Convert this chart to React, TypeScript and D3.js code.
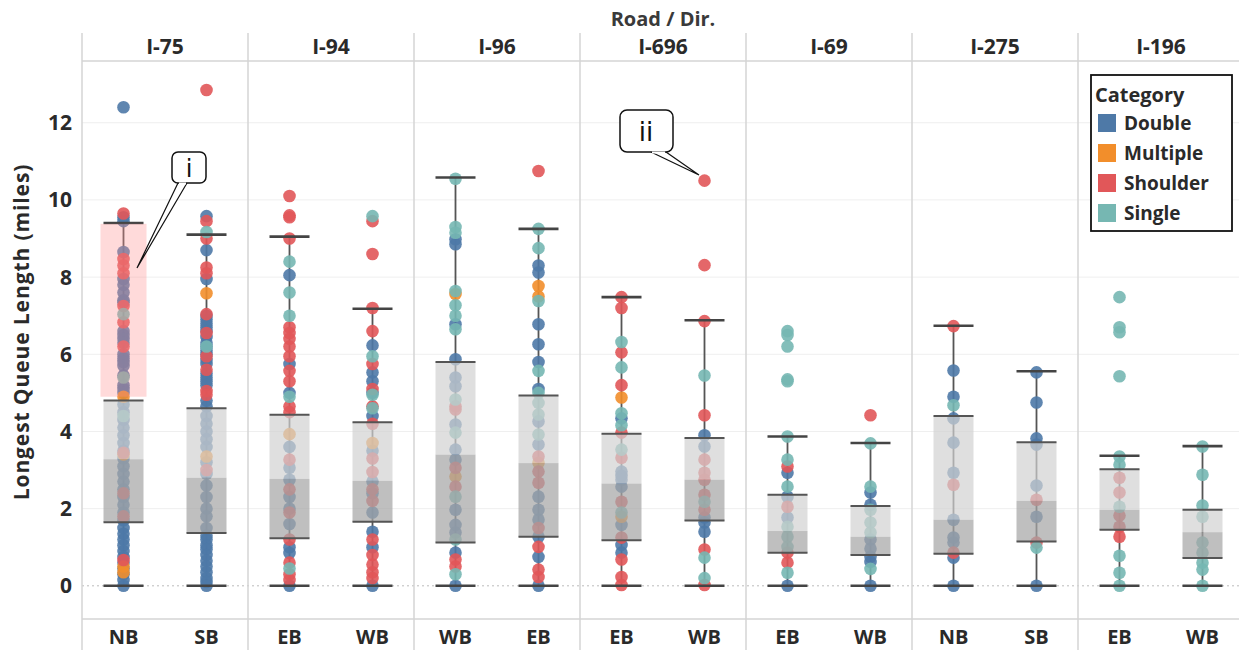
import React from "react";
import * as d3 from "d3";

const W = 1239;
const H = 650;

const roads = ["I-75", "I-94", "I-96", "I-696", "I-69", "I-275", "I-196"];
const dirs = [["NB", "SB"], ["EB", "WB"], ["WB", "EB"], ["EB", "WB"], ["EB", "WB"], ["NB", "SB"], ["EB", "WB"]];
const categories = ["Double", "Multiple", "Shoulder", "Single"];
const catColors = ["#4e79a7", "#f28e2b", "#e15759", "#76b7b2"];
const yTicks = [0, 2, 4, 6, 8, 10, 12];

// box stats per road, per direction: [lowerWhisker, q1, median, q3, upperWhisker]
const boxI75 = [[0, 1.65, 3.28, 4.8, 9.4], [0, 1.37, 2.8, 4.6, 9.1]];
const boxI94 = [[0, 1.23, 2.77, 4.43, 9.05], [0, 1.66, 2.72, 4.24, 7.18]];
const boxI96 = [[0, 1.12, 3.4, 5.8, 10.58], [0, 1.27, 3.18, 4.93, 9.25]];
const boxI696 = [[0, 1.18, 2.65, 3.94, 7.48], [0, 1.69, 2.75, 3.83, 6.88]];
const boxI69 = [[0, 0.86, 1.42, 2.36, 3.87], [0, 0.8, 1.27, 2.07, 3.7]];
const boxI275 = [[0, 0.83, 1.71, 4.4, 6.74], [0, 1.15, 2.2, 3.72, 5.56]];
const boxI196 = [[0, 1.45, 1.97, 3.02, 3.37], [0, 0.72, 1.39, 1.97, 3.62]];

// points: [Double, Multiple, Shoulder, Single]
const ptsI75NB = [
  [12.4, 9.55, 9.45, 8.65, 7.95, 7.8, 7.6, 7.4, 7.35, 6.6, 6.5, 6.4, 6.3, 6.0, 5.9, 5.8, 5.7, 5.45, 5.2, 5.1, 5.0, 4.7, 4.5, 4.3, 4.1, 3.9, 3.7, 3.5, 3.3, 3.1, 2.9, 2.7, 2.5, 2.3, 2.1, 1.9, 1.7, 1.5, 1.35, 1.2, 1.05, 0.9, 0.75, 0.6, 0.45, 0.3, 0.15, 0.0],
  [4.9, 3.4, 0.5, 0.35],
  [9.65, 8.47, 8.3, 8.1, 7.25, 6.83, 6.2, 3.45, 2.4, 1.8, 0.67],
  [7.04, 5.4, 4.4],
];
const ptsI75SB = [
  [9.58, 8.7, 7.95, 7.0, 6.9, 6.8, 6.7, 6.6, 6.45, 6.3, 6.2, 6.1, 6.0, 5.85, 5.75, 5.5, 5.4, 5.3, 5.2, 4.8, 4.65, 4.4, 4.2, 4.0, 3.8, 3.6, 3.2, 2.9, 2.6, 2.3, 2.0, 1.8, 1.5, 1.3, 1.2, 1.05, 0.95, 0.8, 0.65, 0.5, 0.35, 0.2, 0.1, 0.0],
  [7.58, 3.35],
  [12.85, 9.45, 9.0, 8.25, 8.1, 7.04, 6.55, 5.95, 5.6, 5.05, 4.95, 3.0],
  [9.17, 6.2],
];
const ptsI94EB = [
  [8.05, 5.75, 5.0, 3.6, 3.06, 2.75, 2.3, 2.0, 1.6, 1.0, 0.85, 0.0],
  [3.93],
  [10.1, 9.6, 9.55, 9.0, 6.7, 6.55, 6.4, 6.2, 5.95, 5.57, 5.3, 4.65, 4.5, 3.27, 2.5, 1.9, 1.2, 0.6, 0.3, 0.15],
  [8.4, 7.6, 7.0, 4.9, 0.45],
];
const ptsI94WB = [
  [6.23, 5.53, 5.3, 5.0, 4.4, 3.5, 2.7, 2.4, 1.9, 1.4, 1.0, 0.0],
  [3.7],
  [9.45, 8.6, 7.2, 6.6, 5.75, 5.1, 4.65, 4.2, 3.3, 2.95, 2.5, 2.2, 1.2, 0.8, 0.55, 0.35, 0.2],
  [9.58, 5.95, 4.95, 4.6],
];
const ptsI96WB = [
  [8.98, 8.85, 6.78, 5.87, 5.4, 5.17, 4.18, 3.53, 3.27, 1.97, 1.58, 1.38, 0.86, 0.0],
  [7.56, 2.83],
  [4.65, 4.57, 3.06, 2.57, 0.68, 0.5],
  [10.55, 9.3, 9.15, 7.64, 7.27, 7.0, 6.65, 4.83, 3.97, 2.31, 1.2, 0.3],
];
const ptsI96EB = [
  [8.3, 8.12, 6.78, 6.26, 5.8, 5.1, 4.26, 3.66, 2.31, 1.97, 1.71, 1.27, 0.75, 0.0],
  [7.77, 7.5, 3.19],
  [10.75, 3.35, 2.96, 2.67, 1.5, 1.01, 0.42, 0.23],
  [9.25, 8.75, 7.38, 5.57, 5.0, 4.74, 4.44, 3.92],
];
const ptsI696EB = [
  [4.34, 2.96, 2.85, 2.75, 2.57, 1.58, 1.06, 0.86],
  [4.88, 1.79],
  [7.48, 7.2, 6.05, 5.2, 3.97, 3.32, 2.18, 1.25, 0.68, 0.23, 0.02],
  [6.32, 5.66, 4.47, 4.16, 3.53, 1.9],
];
const ptsI696WB = [
  [3.9, 3.61, 1.77, 1.64, 1.4],
  [],
  [10.5, 8.31, 6.86, 4.42, 3.27, 2.93, 2.75, 2.36, 1.97, 0.94, 0.02],
  [5.45, 2.18, 0.73, 0.2],
];
const ptsI69EB = [
  [2.93, 2.31, 1.77, 0.0],
  [],
  [3.09, 2.05, 0.86, 0.6],
  [6.6, 6.5, 6.2, 5.35, 5.3, 3.87, 3.27, 2.57, 1.53, 1.27, 1.01, 0.34],
];
const ptsI69WB = [
  [2.42, 2.1, 1.2, 0.96, 0.75, 0.62, 0.0],
  [],
  [4.42],
  [3.69, 2.57, 1.97, 1.64, 1.38, 0.44],
];
const ptsI275NB = [
  [5.58, 4.9, 4.34, 3.71, 2.93, 1.71, 1.25, 1.12, 0.73, 0.0],
  [],
  [6.73, 2.62, 0.86],
  [4.68],
];
const ptsI275SB = [
  [5.53, 4.75, 3.82, 3.66, 2.6, 1.79, 0.0],
  [],
  [2.23, 1.12],
  [0.99],
];
const ptsI196EB = [
  [],
  [],
  [2.8, 2.42, 1.82, 1.53, 1.27],
  [7.48, 6.7, 6.57, 5.43, 3.35, 3.14, 2.05, 0.78, 0.34, 0.0],
];
const ptsI196WB = [
  [],
  [],
  [],
  [3.61, 2.88, 2.08, 1.79, 1.12, 0.86, 0.6, 0.42, 0.0],
];

const boxes = [boxI75, boxI94, boxI96, boxI696, boxI69, boxI275, boxI196];
const points = [
  [ptsI75NB, ptsI75SB],
  [ptsI94EB, ptsI94WB],
  [ptsI96WB, ptsI96EB],
  [ptsI696EB, ptsI696WB],
  [ptsI69EB, ptsI69WB],
  [ptsI275NB, ptsI275SB],
  [ptsI196EB, ptsI196WB],
];

const FONT = "'Open Sans', 'Noto Sans', sans-serif";
const TXT = "#2a2a2a";

export default function App() {
  const plotLeft = 82;
  const plotRight = 1244;
  const headerTop = 33;
  const headerBottom = 61;
  const plotBottom = 619;

  const xPanel = d3.scaleBand<string>().domain(roads).range([plotLeft, plotRight]).padding(0);
  const xDir = d3.scaleBand<number>().domain([0, 1]).range([0, xPanel.bandwidth()]).padding(0);
  const y = d3.scaleLinear().domain([-0.86, 13.6]).range([plotBottom, headerBottom]);

  const boxW = 40;
  const capW = 40;
  const grey = "#555";

  const gridLines = yTicks.filter((t) => t !== 0);

  const cx = (ri: number, di: number) => (xPanel(roads[ri]) as number) + (xDir(di) as number) + xDir.bandwidth() / 2;

  return (
    <div style={{ position: "absolute", left: 0, top: 0 }}>
      <svg width={W} height={H} style={{ display: "block", background: "#fff", fontFamily: FONT }}>
        {/* gridlines */}
        {gridLines.map((t) => (
          <line key={"g" + t} x1={plotLeft} x2={plotRight} y1={y(t)} y2={y(t)} stroke="#efefef" strokeWidth={1} />
        ))}
        <line x1={plotLeft} x2={plotRight} y1={y(0)} y2={y(0)} stroke="#bbb" strokeWidth={1} strokeDasharray="2,3" />

        {/* panel dividers */}
        {roads.map((r) => (
          <line key={"v" + r} x1={xPanel(r)} x2={xPanel(r)} y1={headerTop} y2={H} stroke="#d4d4d4" strokeWidth={1.5} />
        ))}
        <line x1={plotLeft} x2={plotRight} y1={headerBottom} y2={headerBottom} stroke="#d4d4d4" strokeWidth={1.5} />
        <line x1={plotLeft} x2={plotRight} y1={plotBottom} y2={plotBottom} stroke="#d4d4d4" strokeWidth={1.5} />

        {/* titles */}
        <text x={(plotLeft + plotRight) / 2} y={26} textAnchor="middle" fontSize={20} fontWeight={700} fill="#3a3a3a">
          Road / Dir.
        </text>
        {roads.map((r) => (
          <text key={"h" + r} x={(xPanel(r) as number) + xPanel.bandwidth() / 2} y={54} textAnchor="middle" fontSize={21} fontWeight={700} fill={TXT}>
            {r}
          </text>
        ))}
        {roads.map((r, ri) =>
          dirs[ri].map((d, di) => (
            <text key={"xl" + r + d} x={cx(ri, di)} y={644} textAnchor="middle" fontSize={20} fontWeight={700} fill={TXT}>
              {d}
            </text>
          ))
        )}
        {yTicks.map((t) => (
          <text key={"yt" + t} x={72} y={y(t) + 7.5} textAnchor="end" fontSize={21} fontWeight={700} fill={TXT}>
            {t}
          </text>
        ))}
        <text transform={`translate(29, ${(headerBottom + plotBottom) / 2 - 8}) rotate(-90)`} textAnchor="middle" fontSize={21} fontWeight={700} letterSpacing={0.9} fill={TXT}>
          Longest Queue Length (miles)
        </text>

        {/* whiskers */}
        {roads.map((r, ri) =>
          boxes[ri].map((b, di) => (
            <line key={"w" + r + di} x1={cx(ri, di)} x2={cx(ri, di)} y1={y(b[0])} y2={y(b[4])} stroke={grey} strokeWidth={1.8} />
          ))
        )}

        {/* points */}
        {roads.map((r, ri) =>
          points[ri].map((p, di) =>
            p.map((vals, ci) =>
              vals.map((v, k) => (
                <circle key={`p${ri}-${di}-${ci}-${k}`} cx={cx(ri, di)} cy={y(v)} r={6.3} fill={catColors[ci]} fillOpacity={0.9} />
              ))
            )
          )
        )}

        {/* boxes */}
        {roads.map((r, ri) =>
          boxes[ri].map((b, di) => {
            const x0 = cx(ri, di) - boxW / 2;
            return (
              <g key={"b" + r + di}>
                <rect x={x0} y={y(b[3])} width={boxW} height={y(b[2]) - y(b[3])} fill="#d2d2d2" fillOpacity={0.7} />
                <rect x={x0} y={y(b[2])} width={boxW} height={y(b[1]) - y(b[2])} fill="#a6a6a6" fillOpacity={0.72} />
                <line x1={x0} x2={x0 + boxW} y1={y(b[3])} y2={y(b[3])} stroke={grey} strokeWidth={2} />
                <line x1={x0} x2={x0 + boxW} y1={y(b[1])} y2={y(b[1])} stroke={grey} strokeWidth={2} />
                <line x1={cx(ri, di) - capW / 2} x2={cx(ri, di) + capW / 2} y1={y(b[4])} y2={y(b[4])} stroke="#444" strokeWidth={2.6} />
                <line x1={cx(ri, di) - capW / 2} x2={cx(ri, di) + capW / 2} y1={y(b[0])} y2={y(b[0])} stroke="#444" strokeWidth={2.6} />
              </g>
            );
          })
        )}

        {/* highlight rectangle on I-75 NB */}
        <rect x={cx(0, 0) - 23} y={y(9.38)} width={46} height={y(4.9) - y(9.38)} fill="#ff8f8f" fillOpacity={0.33} />

        {/* callout i */}
        <path d="M178,183 L137,268 L187,183" fill="#fff" stroke="#111" strokeWidth={1.2} />
        <rect x={172} y={152} width={34} height={31} rx={6} fill="#fff" stroke="#111" strokeWidth={1.5} />
        <path d="M179,183.5 L186,183.5" stroke="#fff" strokeWidth={2} />
        <text x={189} y={177} textAnchor="middle" fontSize={24} fontFamily="'DejaVu Sans', sans-serif" fill="#111">i</text>

        {/* callout ii */}
        <path d="M651,152 L699,175 L666,152" fill="#fff" stroke="#111" strokeWidth={1.2} />
        <rect x={620} y={110} width={53} height={42} rx={7} fill="#fff" stroke="#111" strokeWidth={1.5} />
        <path d="M652,152.5 L665,152.5" stroke="#fff" strokeWidth={2} />
        <text x={646} y={141} textAnchor="middle" fontSize={26} fontFamily="'DejaVu Sans', sans-serif" fill="#111">ii</text>

        {/* legend */}
        <rect x={1091} y={75} width={141} height={156} fill="#fff" stroke="#111" strokeWidth={1.8} />
        <text x={1095} y={102} fontSize={20} fontWeight={700} fill={TXT}>Category</text>
        {categories.map((c, i) => (
          <g key={"lg" + c}>
            <rect x={1098} y={114 + i * 30} width={18} height={18} fill={catColors[i]} />
            <text x={1124} y={130 + i * 30} fontSize={19} fontWeight={700} fill={TXT}>{c}</text>
          </g>
        ))}
      </svg>
    </div>
  );
}
